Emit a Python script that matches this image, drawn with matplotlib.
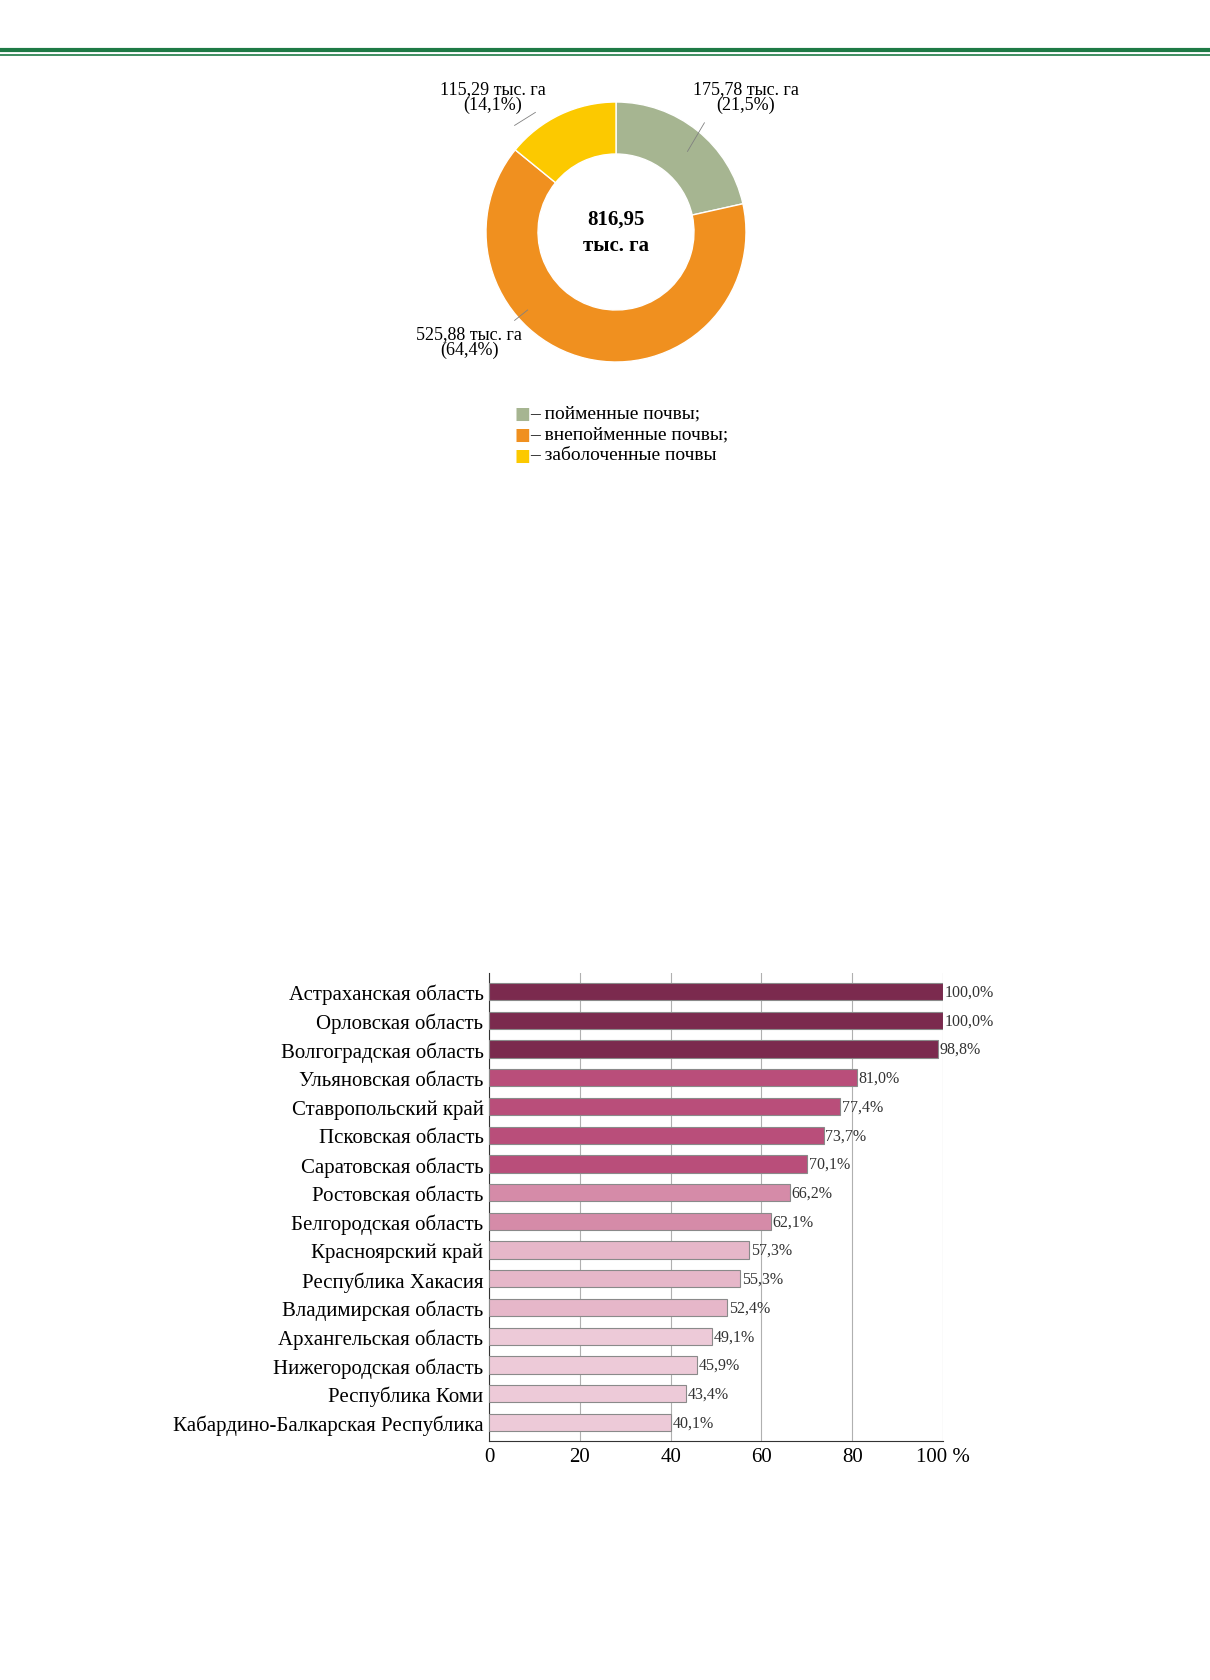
import matplotlib.pyplot as plt
from matplotlib.lines import Line2D

plt.rcParams['font.family'] = ['Liberation Serif', 'DejaVu Serif']

# donut data
soil_labels = ["пойменные почвы;", "внепойменные почвы;", "заболоченные почвы"]
soil_area = [175.78, 525.88, 115.29]
soil_share = ["21,5%", "64,4%", "14,1%"]
soil_area_txt = ["175,78", "525,88", "115,29"]
soil_colors = ["#a6b591", "#f0901f", "#fcc900"]

# bar data
regions = ["Астраханская область", "Орловская область", "Волгоградская область",
           "Ульяновская область", "Ставропольский край", "Псковская область",
           "Саратовская область", "Ростовская область", "Белгородская область",
           "Красноярский край", "Республика Хакасия", "Владимирская область",
           "Архангельская область", "Нижегородская область", "Республика Коми",
           "Кабардино-Балкарская Республика"]
shares = [100.0, 100.0, 98.8, 81.0, 77.4, 73.7, 70.1, 66.2, 62.1,
          57.3, 55.3, 52.4, 49.1, 45.9, 43.4, 40.1]
bar_colors = ["#7b2a4e"] * 3 + ["#b94e7a"] * 4 + ["#d58ba8"] * 2 + \
             ["#e6b7c9"] * 3 + ["#edcad8"] * 4

W, H = 1210, 1681
fig = plt.figure(figsize=(W / 100, H / 100), dpi=100)

# header lines
fig.add_artist(Line2D([0, 1], [1 - 51 / H] * 2, color="#1e7a45", lw=3))
fig.add_artist(Line2D([0, 1], [1 - 56 / H] * 2, color="#1e7a45", lw=1.2))

# ── donut ──
cx, cy, r = 616, 233, 130
ax1 = fig.add_axes([(cx - r) / W, 1 - (cy + r) / H, 2 * r / W, 2 * r / H])
ax1.pie(soil_area, colors=soil_colors, startangle=90, counterclock=False,
        radius=1, wedgeprops=dict(width=0.4, edgecolor="white", linewidth=1))
ax1.set_aspect("equal")
ax1.text(0, 0.1, "816,95", ha="center", va="center", fontsize=15, fontweight="bold")
ax1.text(0, -0.1, "тыс. га", ha="center", va="center", fontsize=15, fontweight="bold")
ax1.text(1.0, 1.04, f"{soil_area_txt[0]} тыс. га\n({soil_share[0]})", ha="center",
         va="center", fontsize=13, linespacing=0.9)
ax1.plot([0.55, 0.68], [0.62, 0.84], color="gray", lw=0.6)
ax1.text(-0.95, 1.04, f"{soil_area_txt[2]} тыс. га\n({soil_share[2]})", ha="center",
         va="center", fontsize=13, linespacing=0.9)
ax1.plot([-0.62, -0.78], [0.92, 0.82], color="gray", lw=0.6)
ax1.text(-1.13, -0.84, f"{soil_area_txt[1]} тыс. га\n({soil_share[1]})", ha="center",
         va="center", fontsize=13, linespacing=0.9)
ax1.plot([-0.78, -0.68], [-0.68, -0.6], color="gray", lw=0.6)
ax1.set_xlim(-1, 1)
ax1.set_ylim(-1, 1)
ax1.axis("off")

# legend
for i, lab in enumerate(soil_labels):
    y = 1 - (414 + 21 * i) / H
    fig.text(514 / W, y, "\u25a0", color=soil_colors[i], fontsize=12, va="center",
             family=["DejaVu Sans"])
    fig.text(530 / W, y, "– " + lab, fontsize=14, va="center")

# ── bars ──
x0, x1, ytop, ybot = 489, 943, 974, 1442
ax2 = fig.add_axes([x0 / W, 1 - ybot / H, (x1 - x0) / W, (ybot - ytop) / H])
ypos = list(range(len(regions)))
ax2.barh(ypos, shares, height=0.6, color=bar_colors, edgecolor="#8a8a8a",
         linewidth=0.8, zorder=3)
for y, v in zip(ypos, shares):
    ax2.text(v + 0.4, y, f"{v:.1f}%".replace(".", ","), va="center", fontsize=11.5,
             color="#333333")
ax2.set_yticks(ypos)
ax2.set_yticklabels(regions, fontsize=15)
ax2.set_ylim(len(regions) - 0.35, -0.65)
ax2.set_xlim(0, 100)
ax2.set_xticks([0, 20, 40, 60, 80, 100])
ax2.set_xticklabels(["0", "20", "40", "60", "80", "100 %"], fontsize=15)
ax2.grid(axis="x", color="#b0b0b0", lw=0.8, zorder=0)
ax2.tick_params(length=0, pad=4)
for s in ["top", "right"]:
    ax2.spines[s].set_visible(False)
ax2.spines["left"].set_color("#333333")
ax2.spines["bottom"].set_color("#333333")

fig.savefig("out.png", dpi=100, facecolor="white")
